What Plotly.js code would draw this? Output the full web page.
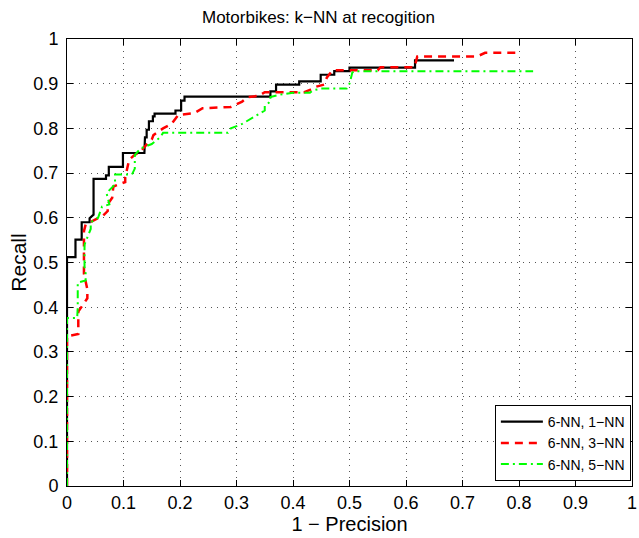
<!DOCTYPE html>
<html>
<head>
<meta charset="utf-8">
<script src="https://cdn.plot.ly/plotly-3.0.1.min.js"></script>
<style>html,body{margin:0;padding:0;background:#fff;}#chart{width:639px;height:538px;}</style>
</head>
<body>
<div id="chart"></div>
<script>
// Series 1: 6-NN, 1-NN (black solid)
const nn1_x = [0,0,0.015,0.015,0.026,0.026,0.04,0.04,0.047,0.047,0.069,0.069,0.074,0.074,0.099,0.099,0.137,0.137,0.138,0.138,0.141,0.141,0.145,0.145,0.152,0.152,0.155,0.155,0.192,0.192,0.202,0.202,0.208,0.208,0.36,0.36,0.37,0.37,0.411,0.411,0.449,0.449,0.473,0.473,0.5,0.5,0.616,0.616,0.685];
const nn1_y = [0,0.512,0.512,0.551,0.551,0.59,0.59,0.599,0.607,0.687,0.687,0.695,0.695,0.714,0.714,0.745,0.745,0.766,0.766,0.78,0.78,0.797,0.797,0.816,0.816,0.827,0.827,0.833,0.833,0.84,0.84,0.862,0.862,0.871,0.871,0.883,0.883,0.898,0.898,0.905,0.905,0.92,0.92,0.928,0.928,0.936,0.936,0.952,0.952];
// Series 2: 6-NN, 3-NN (red dashed)
const nn3_x = [0,0,0.02,0.02,0.036,0.036,0.03,0.03,0.033,0.064,0.072,0.072,0.08,0.082,0.103,0.103,0.11,0.119,0.13,0.138,0.15,0.153,0.17,0.185,0.197,0.225,0.24,0.29,0.31,0.32,0.34,0.35,0.42,0.43,0.44,0.455,0.46,0.47,0.55,0.555,0.615,0.62,0.726,0.74,0.8];
const nn3_y = [0,0.335,0.34,0.39,0.42,0.44,0.475,0.57,0.585,0.605,0.615,0.63,0.645,0.67,0.68,0.69,0.73,0.74,0.748,0.76,0.775,0.785,0.8,0.81,0.83,0.834,0.845,0.848,0.86,0.87,0.873,0.881,0.881,0.886,0.893,0.898,0.914,0.93,0.93,0.937,0.937,0.961,0.961,0.969,0.969];
// Series 3: 6-NN, 5-NN (green dash-dot)
const nn5_x = [0,0,0.018,0.019,0.019,0.033,0.033,0.031,0.031,0.042,0.042,0.055,0.062,0.075,0.07,0.085,0.085,0.115,0.12,0.12,0.13,0.15,0.155,0.165,0.17,0.285,0.29,0.31,0.33,0.35,0.35,0.36,0.36,0.375,0.4,0.43,0.435,0.45,0.495,0.5,0.505,0.51,0.825];
const nn5_y = [0,0.376,0.376,0.4,0.455,0.46,0.475,0.49,0.54,0.575,0.59,0.6,0.625,0.63,0.655,0.675,0.697,0.697,0.71,0.74,0.755,0.765,0.77,0.78,0.79,0.79,0.8,0.81,0.825,0.84,0.85,0.86,0.87,0.875,0.88,0.88,0.885,0.889,0.889,0.9,0.925,0.928,0.928];

const seriesNames = ['6-NN, 1\u2212NN','6-NN, 3\u2212NN','6-NN, 5\u2212NN'];
const tickVals = [0,0.1,0.2,0.3,0.4,0.5,0.6,0.7,0.8,0.9,1];
const tickText = ['0','0.1','0.2','0.3','0.4','0.5','0.6','0.7','0.8','0.9','1'];

const FONT = 'Liberation Sans, Arial, Helvetica, sans-serif';

const traces = [
  {x: nn1_x, y: nn1_y, name: seriesNames[0], mode: 'lines', line: {color: '#000000', width: 2.2}},
  {x: nn3_x, y: nn3_y, name: seriesNames[1], mode: 'lines', line: {color: '#ff0000', width: 2.5, dash: '8px,6px'}},
  {x: nn5_x, y: nn5_y, name: seriesNames[2], mode: 'lines', line: {color: '#00ff00', width: 2, dash: '8px,4px,2px,4px'}}
];

const axisCommon = {
  range: [0, 1],
  tickvals: tickVals,
  ticktext: tickText,
  showgrid: true,
  gridcolor: '#555',
  griddash: '1px,5px',
  gridwidth: 1,
  zeroline: false,
  showline: true,
  linecolor: '#000',
  linewidth: 1,
  mirror: 'ticks',
  ticks: 'inside',
  ticklen: 6,
  tickcolor: '#000',
  ticklabeloverflow: 'allow',
  tickfont: {family: FONT, size: 18, color: '#000'}
};

const layout = {
  width: 639,
  height: 538,
  paper_bgcolor: '#fff',
  plot_bgcolor: '#fff',
  margin: {l: 67, r: 7, t: 39, b: 52},
  showlegend: true,
  title: {text: 'Motorbikes: k\u2212NN at recogition', font: {family: FONT, size: 17, color: '#000'}, x: 0.445, xref: 'paper', xanchor: 'center', y: 1 - 17/538, yref: 'container', yanchor: 'middle'},
  xaxis: Object.assign({}, axisCommon, {title: {text: '1 \u2212 Precision', font: {family: FONT, size: 20, color: '#000'}, standoff: 0}, ticklabelstandoff: 0}),
  yaxis: Object.assign({}, axisCommon, {title: {text: 'Recall', font: {family: FONT, size: 21, color: '#000'}, standoff: 1}, ticklabelstandoff: 4}),
  legend: {x: 0.998, xanchor: 'right', y: 0.011, yanchor: 'bottom', bgcolor: '#fff', bordercolor: '#000', borderwidth: 1, font: {family: FONT, size: 14, color: '#000'}, itemwidth: 42, tracegroupgap: 0}
};

Plotly.newPlot('chart', traces, layout, {displayModeBar: false, staticPlot: true});
</script>
</body>
</html>
